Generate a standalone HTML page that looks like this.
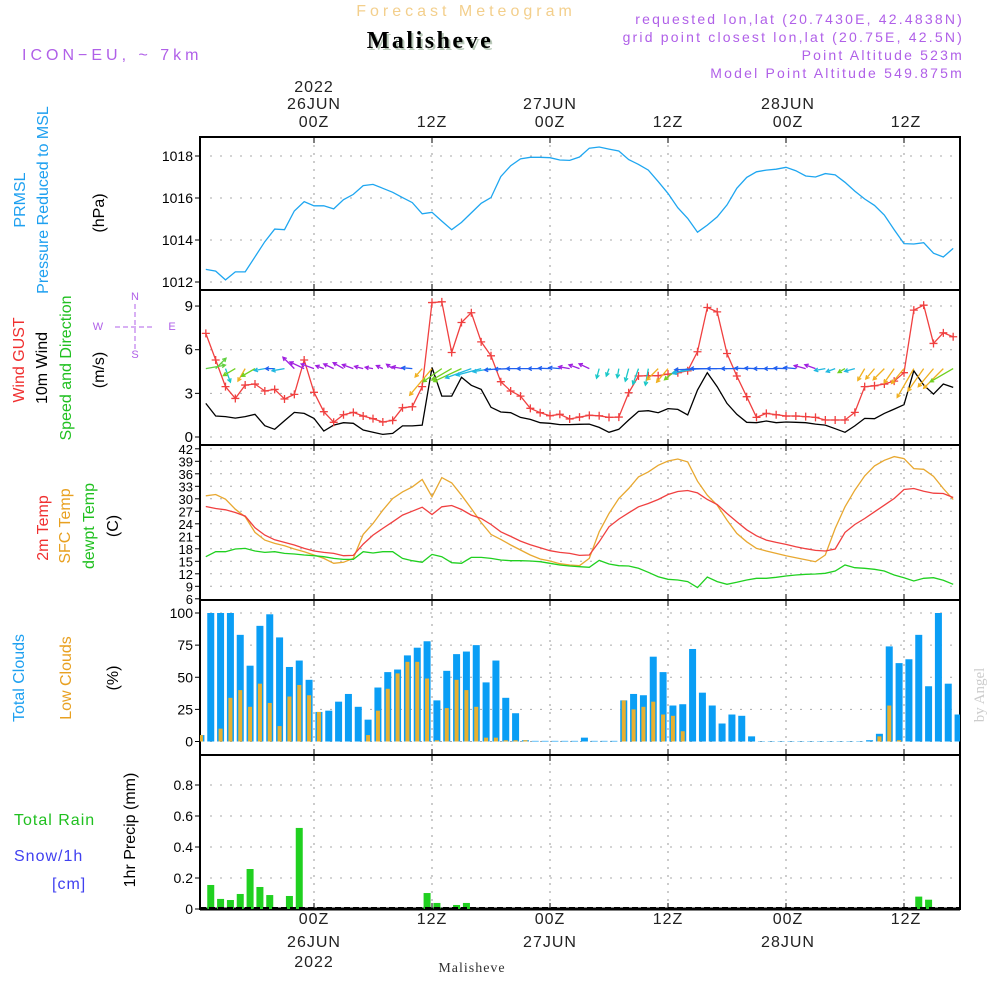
<!DOCTYPE html>
<html><head><meta charset="utf-8"><style>
html,body{margin:0;padding:0;background:#fff;}
svg{display:block;font-family:"Liberation Sans",sans-serif;}
</style></head><body>
<svg id="chart" width="1000" height="1000" viewBox="0 0 1000 1000" xmlns="http://www.w3.org/2000/svg">
<text x="466" y="16" text-anchor="middle" font-size="16" fill="#f3cf8c" letter-spacing="4">Forecast Meteogram</text>
<text x="432" y="50" text-anchor="middle" font-size="24" font-weight="bold" font-family="Liberation Serif,serif" fill="#b8c8b8" letter-spacing="2.5">Malisheve</text>
<text x="430" y="48" text-anchor="middle" font-size="24" font-weight="bold" font-family="Liberation Serif,serif" fill="#000" letter-spacing="2.5">Malisheve</text>
<text x="22" y="60" font-size="16" fill="#b060e8" letter-spacing="4">ICON−EU, ~ 7km</text>
<g font-size="14" fill="#b060e8" text-anchor="end" letter-spacing="2.2">
<text x="964" y="24">requested lon,lat (20.7430E, 42.4838N)</text>
<text x="964" y="42">grid point closest lon,lat (20.75E, 42.5N)</text>
<text x="964" y="60">Point Altitude 523m</text>
<text x="964" y="78">Model Point Altitude 549.875m</text>
</g>
<g font-size="16" fill="#222" text-anchor="middle" letter-spacing="1">
<text x="314" y="92">2022</text><text x="314" y="109">26JUN</text><text x="314" y="127">00Z</text>
<text x="432" y="127">12Z</text>
<text x="550" y="109">27JUN</text><text x="550" y="127">00Z</text>
<text x="668" y="127">12Z</text>
<text x="788" y="109">28JUN</text><text x="788" y="127">00Z</text>
<text x="906" y="127">12Z</text>
</g>
<g font-size="16" fill="#222" text-anchor="middle" letter-spacing="1">
<text x="314" y="924">00Z</text><text x="314" y="947">26JUN</text><text x="314" y="967">2022</text>
<text x="432" y="924">12Z</text>
<text x="550" y="924">00Z</text><text x="550" y="947">27JUN</text>
<text x="668" y="924">12Z</text>
<text x="788" y="924">00Z</text><text x="788" y="947">28JUN</text>
<text x="906" y="924">12Z</text>
</g>
<text x="472" y="972" text-anchor="middle" font-size="14" font-family="Liberation Serif,serif" fill="#333" letter-spacing="1">Malisheve</text>
<text transform="translate(984,695) rotate(-90)" text-anchor="middle" font-size="15" font-family="Liberation Serif,serif" fill="#ccc">by Angel</text>

<g font-size="16" text-anchor="middle">
<text transform="translate(25,200) rotate(-90)" fill="#1ea0f0">PRMSL</text>
<text transform="translate(48,200) rotate(-90)" fill="#1ea0f0">Pressure Reduced to MSL</text>
<text transform="translate(104,213) rotate(-90)" fill="#000">(hPa)</text>
<text transform="translate(24,360) rotate(-90)" fill="#f03030">Wind GUST</text>
<text transform="translate(47,368) rotate(-90)" fill="#000">10m Wind</text>
<text transform="translate(71,368) rotate(-90)" fill="#20c020">Speed and Direction</text>
<text transform="translate(104,370) rotate(-90)" fill="#000">(m/s)</text>
<text transform="translate(48,528) rotate(-90)" fill="#f03030">2m Temp</text>
<text transform="translate(70,526) rotate(-90)" fill="#e8a020">SFC Temp</text>
<text transform="translate(94,526) rotate(-90)" fill="#20c020">dewpt Temp</text>
<text transform="translate(118,526) rotate(-90)" fill="#000">(C)</text>
<text transform="translate(24,678) rotate(-90)" fill="#1ea0f0">Total Clouds</text>
<text transform="translate(71,678) rotate(-90)" fill="#e8a020">Low Clouds</text>
<text transform="translate(118,678) rotate(-90)" fill="#000">(%)</text>
<text transform="translate(135,830) rotate(-90)" fill="#000">1hr Precip (mm)</text>
</g>
<g font-size="16" letter-spacing="1">
<text x="14" y="825" fill="#20c020">Total  Rain</text>
<text x="14" y="861" fill="#4040f0">Snow/1h</text>
<text x="52" y="889" fill="#4040f0">[cm]</text>
</g>
<g fill="#b060e8" stroke="#b060e8" font-size="11" text-anchor="middle">
<text x="135" y="300" stroke="none">N</text><text x="135" y="358" stroke="none">S</text>
<text x="98" y="330" stroke="none">W</text><text x="172" y="330" stroke="none">E</text>
<line x1="115" y1="327" x2="155" y2="327" stroke-dasharray="5,3"/>
<line x1="135" y1="304" x2="135" y2="350" stroke-dasharray="5,3"/>
</g>
<g id="plots"></g>
</svg>
<script>
// ---- data (hourly, t = -11 .. 65 hours from 00Z 26JUN) ----
const pressure = [1012.6,1012.52,1012.1,1012.48,1012.48,1013.2,1013.92,1014.52,1014.49,1015.38,1015.83,1015.63,1015.63,1015.48,1015.92,1016.17,1016.59,1016.65,1016.46,1016.27,1016.02,1015.78,1015.25,1015.32,1014.9,1014.49,1014.84,1015.29,1015.75,1016.02,1017.02,1017.54,1017.86,1017.94,1017.94,1017.92,1017.81,1017.79,1017.95,1018.37,1018.43,1018.33,1018.24,1017.83,1017.6,1017.33,1016.78,1016.22,1015.54,1015.03,1014.37,1014.71,1015.1,1015.67,1016.46,1016.98,1017.25,1017.33,1017.37,1017.46,1017.3,1017.05,1017.0,1017.16,1017.1,1016.75,1016.33,1015.95,1015.65,1015.19,1014.49,1013.83,1013.81,1013.87,1013.37,1013.19,1013.6];
const gust = [7.12,5.29,3.46,2.65,3.57,3.64,3.16,3.27,2.61,2.93,5.29,3.07,1.74,1.01,1.53,1.69,1.44,1.26,1.03,1.14,2.01,2.08,3.46,9.24,9.29,5.81,7.87,8.54,6.54,5.58,3.8,3.16,2.81,1.97,1.67,1.46,1.56,1.24,1.37,1.49,1.46,1.35,1.37,3.04,4.19,4.21,4.21,4.32,4.42,4.55,5.86,8.9,8.6,5.74,4.19,2.77,1.35,1.62,1.53,1.44,1.44,1.40,1.35,1.17,1.17,1.17,1.69,3.46,3.52,3.64,3.84,4.42,8.72,9.06,6.43,7.16,6.89];
const wind10 = [2.31,1.44,1.40,1.30,1.40,1.56,0.78,0.53,1.12,1.69,1.62,1.28,0.41,0.82,0.98,0.94,0.48,0.32,0.18,0.25,0.76,0.76,0.82,4.78,2.81,2.81,4.1,3.55,3.27,2.04,1.72,1.67,1.35,1.21,0.98,0.94,0.85,0.85,0.87,0.89,0.66,0.32,0.53,1.17,1.76,1.81,1.67,1.95,1.9,1.51,3.23,4.42,3.46,2.31,1.56,1.01,0.98,1.1,0.98,1.03,1.01,0.98,0.89,0.82,0.57,0.32,0.76,1.28,1.26,1.62,1.92,2.22,4.55,3.57,2.95,3.64,3.41];
const windDir = [260,225,340,60,30,60,80,90,80,135,115,110,110,115,120,110,105,100,115,125,100,95,40,40,55,60,65,70,75,80,85,88,90,90,90,92,95,100,110,115,15,20,10,15,20,10,45,40,50,70,80,88,90,90,90,92,92,90,90,92,95,105,110,80,70,60,75,30,40,45,35,40,30,35,40,45,60];
const temp2m = [28.15,27.67,27.35,26.72,25.84,23.04,21.29,20.17,19.53,18.9,18.1,17.46,17.14,16.9,16.34,16.42,19.13,21.29,22.89,24.48,26.08,27.03,27.99,26.24,28.07,28.39,27.43,26.08,25.28,23.84,22.09,20.97,19.85,18.98,18.26,17.54,17.14,16.9,16.42,16.5,19.69,23.28,25.12,26.64,28.07,28.87,29.83,31.02,31.74,31.98,31.42,29.83,28.63,26.48,24.48,22.57,21.13,20.09,19.53,19.05,18.5,18.02,17.62,17.46,17.94,21.93,23.84,25.28,26.88,28.47,30.07,32.22,32.46,31.82,31.34,31.26,30.3];
const tempSfc = [30.71,31.02,29.91,27.51,25.68,21.93,20.09,19.29,18.74,17.94,17.3,16.5,15.7,14.51,14.75,15.7,21.45,24.08,27.27,30.07,31.66,32.86,34.62,30.47,35.09,33.82,30.87,27.67,24.32,21.45,20.25,18.9,17.7,16.5,15.54,15.06,14.43,14.11,13.95,15.7,22.09,26.48,30.07,32.46,35.25,36.45,38.05,39.08,39.56,38.85,34.22,30.87,28.47,24.88,21.69,19.69,18.1,17.46,16.9,16.34,15.86,15.38,14.91,16.5,22.89,28.07,32.06,35.49,37.89,39.24,40.12,39.64,37.25,37.09,35.41,32.46,29.83];
const dewpt = [16.1,17.3,17.3,17.94,18.1,17.46,17.14,17.3,16.9,16.74,16.5,16.34,16.1,15.7,15.46,15.46,17.3,16.98,17.3,17.3,15.7,15.14,14.75,16.66,16.1,14.67,14.51,15.94,15.94,15.7,15.3,15.14,15.14,15.06,14.91,14.51,14.11,13.87,13.71,13.55,15.22,14.35,13.95,13.87,13.31,12.35,11.31,10.68,10.52,10.12,8.68,11.23,10.12,9.48,9.96,10.52,10.92,10.92,11.15,11.47,11.71,11.87,11.95,12.11,12.67,14.11,13.47,13.31,13.07,12.67,11.71,11.07,10.28,10.92,11.07,10.44,9.48];
// ---- bar data (hourly, centered at t = -11.5 .. 65.5) ----
const totalClouds = [5,100,100,100,83,59,90,99,81,58,63,48,23,24,31,37,27,17,42,54,56,67,73,78,32,55,68,70,75,46,63,34,22,1,0.5,0.5,0.5,0.5,0.5,3,0.5,0.5,0.5,32,37,36,66,54,28,29,72,38,28,14,21,20,4,0.3,0.3,0.3,0.3,0.3,0.3,0.3,0.3,0.3,0.3,0.3,1,6,74,61,64,83,43,100,45,21];
const lowClouds = [5,0,10,34,40,27,45,30,12,35,44,36,23,0,0,0,0,5,24,41,53,62,62,49,1,26,48,40,27,3,3,1,1,1,0,0,0,0,0,0,0,0,0,32,25,27,31,21,20,8,0,0,0,0,0,0,0,0,0,0,0,0,0,0,0,0,0,0,0,4,28,1,0,0,0,0,0,0];
const precip = [0,0.155,0.065,0.058,0.097,0.258,0.142,0.09,0,0.084,0.523,0,0,0,0,0,0,0,0,0,0,0,0,0.103,0.039,0,0.026,0.039,0,0,0,0,0,0,0,0,0,0,0,0,0,0,0,0,0,0,0,0,0,0,0,0,0,0,0,0,0,0,0,0,0,0,0,0,0,0,0,0,0,0,0,0,0,0.08,0.06,0,0,0];
const pTicks = [1012,1014,1016,1018];
const wTicks = [0,3,6,9];
const tTicks = [6,9,12,15,18,21,24,27,30,33,36,39,42];
const cTicks = [0,25,50,75,100];
const rTicks = [0,0.2,0.4,0.6,0.8];
const timeTicks = [0,12,24,36,48,60];

const NS='http://www.w3.org/2000/svg';
const X0=200, X1=960;
const xOf=t=>314+t*9.8333;
const yP=v=>282-(v-1012)*21;
const yW=v=>437-v*14.55;
const yT=v=>586.3-(v-9)*4.1667;
const yC=v=>741.5-v*1.285;
const yR=v=>909-v*155;
const root=document.getElementById('plots');
function mk(tag,attrs,parent){const e=document.createElementNS(NS,tag);for(const k in attrs)e.setAttribute(k,attrs[k]);(parent||root).appendChild(e);return e;}

const panels=[
 {name:'pressure',top:137,bot:290,ticks:pTicks,yf:yP,fs:14},
 {name:'wind',top:290,bot:445,ticks:wTicks,yf:yW,fs:15},
 {name:'temperature',top:445,bot:600,ticks:tTicks,yf:yT,fs:13},
 {name:'clouds',top:600,bot:755,ticks:cTicks,yf:yC,fs:14},
 {name:'precip',top:755,bot:909,ticks:rTicks,yf:yR,fs:14}
];
const clip=mk('clipPath',{id:'plotclip'});mk('rect',{x:X0,y:137,width:X1-X0,height:772},clip);
panels.forEach(p=>{
  const g=mk('g',{});
  
  
  timeTicks.forEach(t=>{const l=mk('line',{x1:xOf(t),x2:xOf(t),y1:p.top,y2:p.bot,stroke:'#999','stroke-dasharray':'2,6'},g);
    });
  p.ticks.forEach(v=>{const y=p.yf(v);
    if(y>p.top+3&&y<p.bot-3){const l=mk('line',{x1:X0+10,x2:X1,y1:y,y2:y,stroke:'#aaa','stroke-dasharray':'2,8'},g);
      }
    mk('line',{x1:X0-5,x2:X0,y1:y,y2:y,stroke:'#000'},g);
    const tx=mk('text',{x:X0-7,y:y+5,'text-anchor':'end','font-size':p.fs,fill:'#000'},g);
    tx.textContent=String(v);
    
  });
  const r=mk('rect',{x:X0,y:p.top,width:X1-X0,height:p.bot-p.top,fill:'none',stroke:'#000','stroke-width':2},g);
  
  timeTicks.forEach(t=>{mk('line',{x1:xOf(t),x2:xOf(t),y1:p.bot,y2:p.bot-6,stroke:'#000'},g);mk('line',{x1:xOf(t),x2:xOf(t),y1:p.top,y2:p.top+6,stroke:'#000'},g);});
});
mk('line',{x1:X0,x2:X1,y1:909,y2:909,stroke:'#000','stroke-width':3});

function line(arr,yf,color,name,w){
  const pts=arr.map((v,i)=>xOf(i-11).toFixed(1)+','+yf(v).toFixed(1)).join(' ');
  const pl=mk('polyline',{points:pts,fill:'none',stroke:color,'stroke-width':w||1.3,'clip-path':'url(#plotclip)'});
  
  
  return pl;
}
line(pressure,yP,'#1ea6f0','pressure-line');
line(wind10,yW,'#000','wind-10m-line');
line(gust,yW,'#f04040','wind-gust-line');
gust.forEach((v,i)=>{const x=xOf(i-11),y=yW(v);
  const m=mk('path',{d:`M${x-4},${y}H${x+4}M${x},${y-4}V${y+4}`,stroke:'#f04040','stroke-width':1.3});
  
  
});
function dirColor(d){if(d>=300||d<25)return '#18c8c8';if(d<50)return '#f0b020';if(d<70)return '#70d020';if(d<85)return '#20b8e0';if(d<100)return '#2060f0';if(d<200)return '#a020e0';return '#60d040';}
windDir.forEach((d,i)=>{
  const x=xOf(i-11),y=yW(4.7);if(x<X0)return;
  const len=6+wind10[i]*6;
  const a=(d+180)*Math.PI/180;
  const dx=Math.sin(a)*len, dy=-Math.cos(a)*len;
  const x2=x+dx,y2=y+dy;
  const ang=Math.atan2(dy,dx),h=4;
  const p=`M${x},${y}L${x2},${y2}M${x2-h*Math.cos(ang-0.5)},${y2-h*Math.sin(ang-0.5)}L${x2},${y2}L${x2-h*Math.cos(ang+0.5)},${y2-h*Math.sin(ang+0.5)}`;
  const ar=mk('path',{d:p,stroke:dirColor(d),'stroke-width':1.3,fill:'none','clip-path':'url(#plotclip)'});
  
  
});
line(tempSfc,yT,'#e8a830','sfc-temp-line');
line(temp2m,yT,'#f04040','temp-2m-line');
line(dewpt,yT,'#20d020','dewpoint-line');

totalClouds.forEach((v,i)=>{const x=xOf(i-11.5);
  const b=mk('rect',{x:x-3.5,y:yC(v),width:7,height:yC(0)-yC(v),fill:'#0a9ef5','clip-path':'url(#plotclip)'});
  
  
});
lowClouds.forEach((v,i)=>{if(v<=0)return;const x=xOf(i-11.5);
  const b=mk('rect',{x:x-2,y:yC(v),width:4,height:yC(0)-yC(v),fill:'#e8b030','clip-path':'url(#plotclip)'});
  
  
});
precip.forEach((v,i)=>{if(v<=0)return;const x=xOf(i-11.5);
  const b=mk('rect',{x:x-3.5,y:yR(v),width:7,height:yR(0)-yR(v),fill:'#20d020','clip-path':'url(#plotclip)'});
  
  
});
mk('line',{x1:X0,x2:X1,y1:908,y2:908,stroke:'#000','stroke-width':2,'stroke-dasharray':'6,3'});
</script>
</body></html>
